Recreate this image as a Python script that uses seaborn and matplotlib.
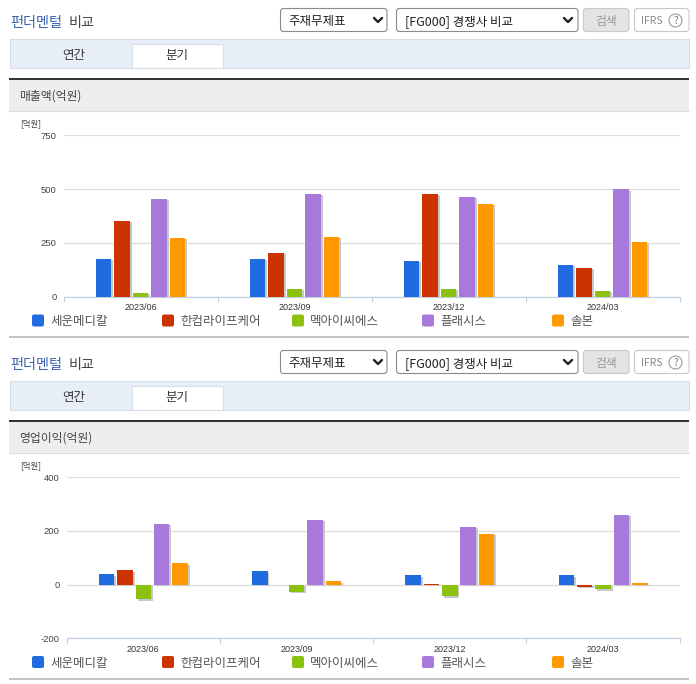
import matplotlib
matplotlib.use("Agg")
import matplotlib.pyplot as plt
import matplotlib.patheffects as pe
from matplotlib.patches import Rectangle, FancyBboxPatch, Circle
import pandas as pd
import seaborn as sns

sns.set_theme(style="white")
plt.rcParams['font.family'] = ['Noto Sans CJK KR', 'DejaVu Sans']
plt.rcParams['axes.unicode_minus'] = False

# ---- data ----
periods = ["2023/06", "2023/09", "2023/12", "2024/03"]
companies = ["세운메디칼", "한컴라이프케어", "멕아이씨에스", "플래시스", "솔본"]
colors = ["#1F6BDF", "#CC3300", "#8CC20E", "#A679DB", "#FF9900"]

sales_seun = [176, 176, 166, 148]
sales_hancom = [352, 204, 478, 134]
sales_mek = [18, 36, 36, 27]
sales_flash = [455, 478, 464, 498]
sales_solborn = [272, 278, 432, 253]

op_seun = [38, 49, 35, 35]
op_hancom = [53, 0, 3, -8]
op_mek = [-54, -26, -43, -18]
op_flash = [227, 242, 216, 260]
op_solborn = [79, 12, 190, 5]

sales_ticks = [0, 250, 500, 750]
op_ticks = [-200, 0, 200, 400]

W, H = 696, 684
fig = plt.figure(figsize=(W / 100, H / 100), dpi=100, facecolor="white")

ui = fig.add_axes([0, 0, 1, 1], zorder=0)
ui.set_xlim(0, W)
ui.set_ylim(H, 0)
ui.axis("off")


def box(x0, y0, x1, y1, fc, ec="none", lw=0.8, r=0):
    if r:
        p = FancyBboxPatch((x0 + r, y0 + r), x1 - x0 - 2 * r, y1 - y0 - 2 * r,
                           boxstyle=f"round,pad={r},rounding_size={r}",
                           fc=fc, ec=ec, lw=lw)
    else:
        p = Rectangle((x0, y0), x1 - x0, y1 - y0, fc=fc, ec=ec, lw=lw)
    ui.add_patch(p)


def label(x, y, s, size=9, color="#333333", ha="left", **kw):
    ui.text(x, y + 1.5, s, fontsize=size, color=color, ha=ha, va="center", **kw)


def chevron(x, y):
    ui.plot([x - 4, x, x + 4], [y - 2, y + 2, y - 2], color="#222222", lw=1.7)


def section(dy, heading, legend_y, rule_y):
    label(10, 22 + dy, "펀더멘털", size=10.2, color="#3A62B0", fontweight="medium")
    label(69, 22 + dy, "비교", size=10.2, color="#444444", fontweight="medium")
    # selects and buttons
    box(280.5, 8.5 + dy, 387, 31.5 + dy, "white", "#8a8a8a", r=3)
    label(288, 20 + dy, "주재무제표", size=9, color="#222222")
    chevron(378, 20 + dy)
    box(396.5, 8.5 + dy, 578, 31.5 + dy, "white", "#8a8a8a", r=3)
    label(405, 20 + dy, "[FG000] 경쟁사 비교", size=9, color="#222222")
    chevron(568, 20 + dy)
    box(583.5, 8.5 + dy, 629, 31.5 + dy, "#E4E4E4", "#C8C8C8", r=3)
    label(606, 20 + dy, "검색", size=8.5, color="#999999", ha="center")
    box(634.5, 8.5 + dy, 689, 31.5 + dy, "white", "#C8C8C8", r=3)
    label(641, 19.5 + dy, "IFRS", size=7.5, color="#888888")
    ui.add_patch(Circle((675.5, 20.5 + dy), 6.5, fc="white", ec="#999999", lw=0.8))
    label(675.5, 19.5 + dy, "?", size=7, color="#777777", ha="center")
    # tabs
    box(9.5, 38.5 + dy, 689, 67.5 + dy, "#E8EEF8", "#D8DEE8")
    box(131.5, 43.5 + dy, 222.5, 67.5 + dy, "white", "#D8DEE8")
    label(74, 54 + dy, "연간", size=9, color="#333333", ha="center")
    label(177, 54 + dy, "분기", size=9, color="#333333", ha="center")
    # heading band
    box(9, 79 + dy, 689, 110.5 + dy, "#EEEEEE")
    box(9, 78 + dy, 689, 80 + dy, "#333333")
    ui.plot([9, 689], [110.5 + dy, 110.5 + dy], color="#DDDDDD", lw=0.8)
    label(19, 95 + dy, heading, size=8.5, color="#444444")
    label(20, 122 + dy, "[억원]", size=6, color="#444444")
    # legend
    for i, (name, col) in enumerate(zip(companies, colors)):
        x = 32 + 130 * i
        box(x, legend_y - 6, x + 12, legend_y + 6, col, r=2)
        label(x + 18, legend_y, name, size=9, color="#555555")
    box(9, rule_y - 1, 689, rule_y + 1, "#C4C4C4")


section(0, "매출액(억원)", 320.5, 337)
section(342, "영업이익(억원)", 662, 679)


def chart(left, right, top, bottom, series, ticks):
    ax = fig.add_axes([left / W, 1 - bottom / H, (right - left) / W, (bottom - top) / H], zorder=2)
    ax.patch.set_alpha(0)
    frame = pd.DataFrame({
        "period": periods * len(companies),
        "company": [c for c in companies for _ in periods],
        "value": [v for s in series for v in s],
    })
    sns.barplot(data=frame, x="period", y="value", hue="company", order=periods,
                hue_order=companies, palette=colors, width=0.6, gap=0.16,
                saturation=1, legend=False, ax=ax, zorder=3, linewidth=0, edgecolor="none")
    for p in ax.patches:
        p.set_linewidth(0)
        if p.get_height() != 0:
            p.set_path_effects([pe.SimplePatchShadow(offset=(1.4, -1), shadow_rgbFace="#C8C8C8", alpha=1), pe.Normal()])
    ax.set_xlim(-0.5, 3.5)
    ax.set_ylim(ticks[0], ticks[-1])
    ax.set_yticks(ticks)
    ax.set_xlabel("")
    ax.set_ylabel("")
    ax.grid(axis="y", color="#DDDDDD", lw=0.9, zorder=0)
    ax.grid(axis="x", visible=False)
    ax.set_axisbelow(True)
    for side in ["top", "right", "left"]:
        ax.spines[side].set_visible(False)
    ax.spines["bottom"].set_color("#C0D0E0")
    ax.spines["bottom"].set_linewidth(0.9)
    ax.set_xticks([i - 0.5 for i in range(len(periods) + 1)], minor=True)
    ax.tick_params(axis="x", which="minor", length=3.5, width=0.8, color="#C0D0E0", bottom=True)
    ax.tick_params(axis="x", which="major", length=0, pad=5, labelsize=6.5, labelcolor="#333333")
    ax.tick_params(axis="y", length=0, pad=5, labelsize=6.8, labelcolor="#444444")
    for t in ax.get_xticklabels() + ax.get_yticklabels():
        t.set_fontfamily("Liberation Sans")
    return ax


chart(63.5, 679.7, 135.3, 296.5,
      [sales_seun, sales_hancom, sales_mek, sales_flash, sales_solborn], sales_ticks)
chart(66.7, 679.7, 477.3, 638.3,
      [op_seun, op_hancom, op_mek, op_flash, op_solborn], op_ticks)

fig.savefig("out.png", dpi=100)
